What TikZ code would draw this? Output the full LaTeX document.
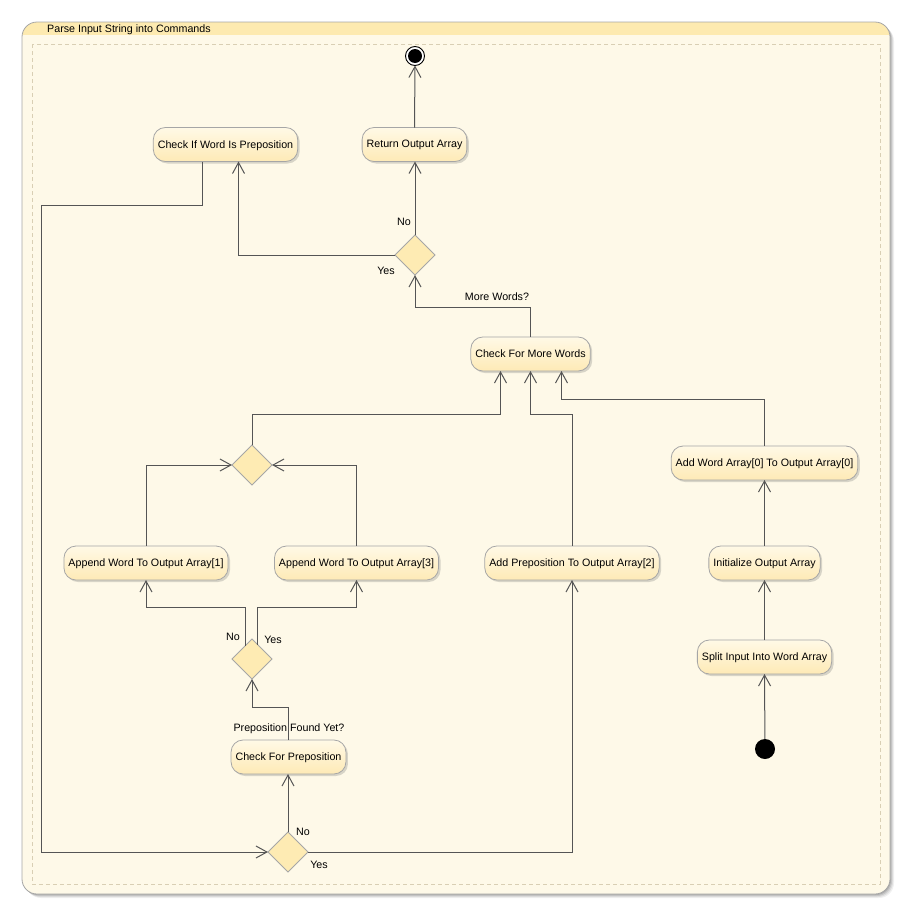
\documentclass[tikz,border=0pt]{standalone}
\usepackage{fontspec}
\setmainfont{Liberation Sans}
\usetikzlibrary{arrows.meta,shapes.geometric,shadows}

\definecolor{lineC}{HTML}{555555}
\definecolor{bgC}{HTML}{FEF9E8}
\definecolor{barC}{HTML}{FDEAB0}
\definecolor{frameC}{HTML}{A6A6A6}
\definecolor{nodeTop}{HTML}{FFF9E6}
\definecolor{nodeBot}{HTML}{FEEAB6}
\definecolor{diaC}{HTML}{FEEBB3}
\definecolor{dashC}{HTML}{D9CFB4}

\begin{document}
\begin{tikzpicture}[x=1pt,y=-1pt,
  font=\fontsize{10.7}{13}\selectfont,
  act/.style={rounded corners=12pt, draw=frameC, line width=0.8pt,
    top color=nodeTop, bottom color=nodeBot, minimum height=34pt,
    inner xsep=4.5pt, inner ysep=0pt, outer sep=0pt, text depth=0.6pt,
    drop shadow={shadow xshift=2pt, shadow yshift=-2pt, opacity=0.25, fill=black!60}},
  dia/.style={shape=diamond, draw=frameC, fill=diaC, line width=0.8pt,
    minimum width=40pt, minimum height=40pt, inner sep=0pt, outer sep=0pt},
  flow/.style={draw=lineC, line width=1pt, -{Straight Barb[length=11pt,width=12pt]}},
  lbl/.style={inner sep=0pt, text=black, text depth=0.6pt}]

\useasboundingbox (0,0) rectangle (912,916);

% swimlane frame with soft shadow
\foreach \o/\a in {4/0.06, 3/0.08, 2/0.10, 1/0.12}
  \fill[black, opacity=\a, rounded corners=15pt] (22+\o,22+\o) rectangle (890+\o,894+\o);
\fill[bgC, rounded corners=15pt] (22,22) rectangle (890,894);
\begin{scope}
  \clip[rounded corners=15pt] (22,22) rectangle (890,894);
  \fill[barC] (22,22) rectangle (890,35);
\end{scope}
\draw[frameC, line width=0.8pt, rounded corners=15pt] (22,22) rectangle (890,894);
\node[lbl, anchor=west] (title) at (47,28.5) {Parse Input String into Commands};
\draw[dashC, line width=0.7pt, dash pattern=on 4pt off 3pt] (32,44) rectangle (880,884);

% activities
\node[act] (chk)   at (225.5,144.5) {Check If Word Is Preposition};
\node[act] (ret)   at (414.5,144.5) {Return Output Array};
\node[act] (more)  at (530.5,354)   {Check For More Words};
\node[act] (app1)  at (146,563)     {Append Word To Output Array[1]};
\node[act] (app3)  at (356.5,563)   {Append Word To Output Array[3]};
\node[act] (prep)  at (572,563)     {Add Preposition To Output Array[2]};
\node[act] (addw)  at (764.5,463)   {Add Word Array[0] To Output Array[0]};
\node[act] (init)  at (764.5,563)   {Initialize Output Array};
\node[act] (split) at (764.5,657)   {Split Input Into Word Array};
\node[act] (cfp)   at (288.5,757)   {Check For Preposition};

% decisions and merges
\node[dia] (d1) at (415,255) {};
\node[dia] (d2) at (252,465) {};
\node[dia] (d3) at (252,659) {};
\node[dia] (d4) at (288,852) {};

% start and end
\node[circle, fill=black, minimum size=20pt, inner sep=0pt, outer sep=0pt] (start) at (765,749) {};
\node[circle, draw=black, line width=0.9pt, fill=white, minimum size=19pt, inner sep=0pt, outer sep=0pt] (endn) at (415,56) {};
\fill[black] (endn.center) circle (7pt);

% flows
\draw[flow] (start) -- (split.south);
\draw[flow] (split.north) -- (init.south);
\draw[flow] (init.north) -- (addw.south);
\draw[flow] (addw.north) -- (addw.north |- 0,399) -| ([xshift=31pt]more.south);
\draw[flow] (more.north) -- (more.north |- 0,307) -| (d1.south);
\draw[flow] (d1.north) -- (d1.north |- ret.south);
\draw[flow] (d1.west) -| ([xshift=13pt]chk.south);
\draw[flow] (ret.north) -- (endn.south);

\coordinate (lft) at (41,852);
\draw[flow] ([xshift=-23pt]chk.south) -- ([xshift=-23pt]chk.south |- 0,205) -| (lft) -- (d4.west);
\draw[flow] (d4.north) -- (d4.north |- cfp.south);
\draw[flow] (d4.east) -| (prep.south);
\draw[flow] (cfp.north) -- (cfp.north |- 0,707) -| (d3.south);
\draw[flow] (d3.118) -- (d3.118 |- 0,607) -| (app1.south);
\draw[flow] (d3.67) -- (d3.67 |- 0,607) -| (app3.south);
\draw[flow] (app1.north) |- (d2.west);
\draw[flow] (app3.north) |- (d2.east);
\draw[flow] (d2.north) -- (d2.north |- 0,414) -| ([xshift=-30pt]more.south);
\draw[flow] (prep.north) -- (prep.north |- 0,414) -| (more.south);

% guard labels
\node[lbl] (lmore) at (497,296.5) {More Words?};
\node[lbl] (lno1)  at (404,222.5) {No};
\node[lbl] (lyes1) at (386,271.5) {Yes};
\node[lbl] (lfound) at (289,727.5) {Preposition Found Yet?};
\node[lbl] (lno3)  at (233,637.5) {No};
\node[lbl] (lyes3) at (273,640.5) {Yes};
\node[lbl] (lno4)  at (303,832.5) {No};
\node[lbl] (lyes4) at (319,865.5) {Yes};
\end{tikzpicture}
\end{document}
